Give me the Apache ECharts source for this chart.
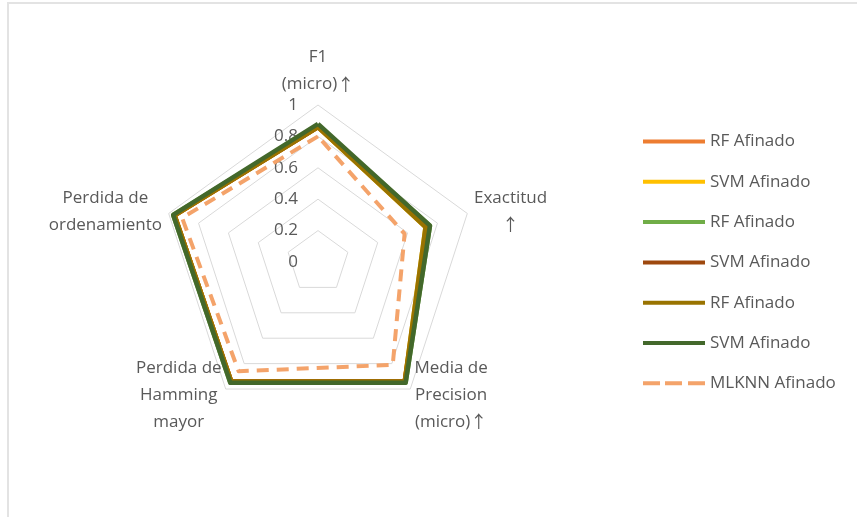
<!DOCTYPE html>
<html>
<head>
<meta charset="utf-8">
<script src="https://cdn.jsdelivr.net/npm/echarts@6/dist/echarts.min.js"></script>
<style>
	html, body {
		margin: 0;
		padding: 0;
		background: #fff;
	}
	#frame {
		position: absolute;
		left: 7px;
		top: 2px;
		right: 0;
		bottom: 0;
		border-top: 2px solid #e3e3e3;
		border-left: 2px solid #e3e3e3;
	}
	#chart {
		position: absolute;
		left: 0;
		top: 0;
		width: 857px;
		height: 517px;
	}
</style>
</head>
<body>
<div id="frame"></div>
<div id="chart"></div>
<script>
	// indicadores en sentido antihorario desde arriba
	const indicatorNames = [
		'F1\n(micro)↑',
		'Perdida de\nordenamiento',
		'Perdida de\nHamming\nmayor',
		'Media de\nPrecision\n(micro)↑',
		'Exactitud\n↑'
	];

	const seriesNames = ['RF Afinado', 'SVM Afinado', 'RF Afinado', 'SVM Afinado', 'RF Afinado', 'SVM Afinado', 'MLKNN Afinado'];

	// valores en el mismo orden que indicatorNames
	const rfOrange = [0.86, 0.96, 0.94, 0.94, 0.73];
	const svmYellow = [0.86, 0.96, 0.94, 0.94, 0.72];
	const rfGreen = [0.87, 0.97, 0.95, 0.95, 0.75];
	const svmBrown = [0.86, 0.96, 0.94, 0.94, 0.74];
	const rfOlive = [0.86, 0.96, 0.94, 0.94, 0.72];
	const svmDarkGreen = [0.88, 0.97, 0.95, 0.95, 0.75];
	const mlknn = [0.80, 0.91, 0.86, 0.81, 0.58];

	const seriesValues = [rfOrange, svmYellow, rfGreen, svmBrown, rfOlive, svmDarkGreen, mlknn];
	const colors = ['#ED7D31', '#FFC000', '#70AD47', '#9E480E', '#997300', '#43682B', '#F4A36A'];

	const chart = echarts.init(document.getElementById('chart'));

	const lineIcon = 'path://M0,0h62v4h-62z';
	const dashIcon = 'path://M0,0h17v4h-17z M22,0h17v4h-17z M45,0h17v4h-17z';

	// cada linea centrada; la flecha con una fuente CJK
	const formatName = name => name.split('\n').map(line => {
		const parts = line.split('↑');
		let out = parts[0] ? '{c|' + parts[0] + '}' : '';
		if (parts.length > 1) out += '{a|↑}';
		return out;
	}).join('\n');

	chart.setOption({
		animation: false,
		textStyle: {
			fontFamily: 'Open Sans'
		},
		legend: {
			orient: 'vertical',
			left: 638,
			top: 128,
			itemWidth: 62,
			itemHeight: 4,
			itemGap: 23.3,
			textStyle: {
				color: '#595959',
				fontSize: 17,
				fontFamily: 'Open Sans'
			},
			data: seriesNames.map((n, i) => ({
				name: n + '\u200B'.repeat(i),
				icon: i === 6 ? dashIcon : lineIcon,
				itemStyle: { color: colors[i] }
			})),
			formatter: name => name.replace(/\u200B/g, '')
		},
		radar: {
			center: [318, 262],
			radius: 157,
			startAngle: 90,
			splitNumber: 5,
			shape: 'polygon',
			indicator: indicatorNames.map((n, i) => ({
				name: n,
				min: 0,
				max: 1,
				axisLabel: {
					show: i === 0,
					color: '#595959',
					fontSize: 17,
					fontFamily: 'Open Sans',
					margin: 20
				}
			})),
			axisName: {
				color: '#595959',
				fontSize: 17,
				fontFamily: 'Open Sans',
				formatter: formatName,
				rich: {
					c: {
						align: 'center',
						color: '#595959',
						fontSize: 17,
						fontFamily: 'Open Sans',
						lineHeight: 27
					},
					a: {
						align: 'center',
						color: '#595959',
						fontSize: 17,
						fontFamily: 'Noto Sans CJK SC',
						lineHeight: 27
					}
				}
			},
			nameGap: 7,
			axisLine: { show: false },
			axisTick: { show: false },
			splitArea: { show: false },
			splitLine: {
				lineStyle: {
					color: '#d9d9d9',
					width: 1
				}
			}
		},
		series: seriesValues.map((vals, i) => ({
			type: 'radar',
			name: seriesNames[i] + '\u200B'.repeat(i),
			symbol: 'none',
			z: 2 + i,
			lineStyle: {
				color: colors[i],
				width: i === 6 ? 4 : 4.5,
				type: i === 6 ? [12, 8] : 'solid'
			},
			itemStyle: { color: colors[i] },
			data: [{ value: vals, name: seriesNames[i] + '\u200B'.repeat(i) }]
		}))
	});
</script>
</body>
</html>
